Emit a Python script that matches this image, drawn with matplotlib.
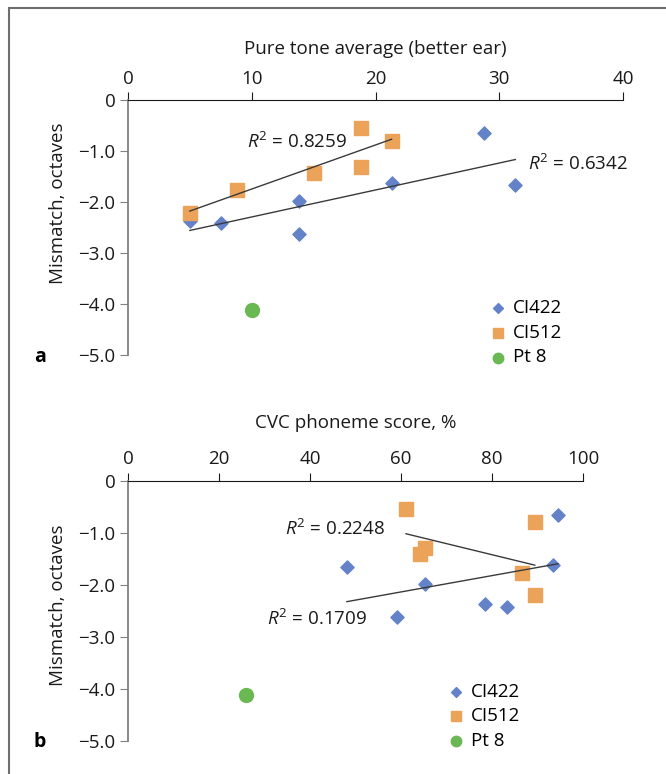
import numpy as np
import matplotlib
matplotlib.use("Agg")
import matplotlib.pyplot as plt
from matplotlib.patches import Rectangle

plt.rcParams['font.family'] = ['Open Sans', 'DejaVu Sans']
plt.rcParams['mathtext.fontset'] = 'custom'
plt.rcParams['mathtext.it'] = 'Open Sans:italic'
plt.rcParams['mathtext.rm'] = 'Open Sans'

# panel a: pure tone average vs mismatch
pta_ci422 = [5.0, 7.5, 13.8, 13.8, 21.3, 28.8, 31.3]
mis_ci422 = [-2.37, -2.42, -1.99, -2.62, -1.62, -0.65, -1.66]
pta_ci512 = [5.0, 8.8, 15.0, 18.8, 18.8, 21.3]
mis_ci512 = [-2.21, -1.77, -1.43, -0.55, -1.31, -0.81]
pta_pt8 = [10.0]
mis_pt8 = [-4.11]

# panel b: CVC phoneme score vs mismatch
cvc_ci422 = [78.4, 83.4, 65.2, 59.1, 93.5, 94.5, 48.1]
cvc_ci512 = [61.1, 89.4, 65.2, 64.2, 86.5, 89.4]
mis_ci512_b = [-0.54, -0.79, -1.29, -1.41, -1.76, -2.20]
cvc_pt8 = [25.9]

r2_a = ["0.8259", "0.6342"]
r2_b = ["0.2248", "0.1709"]

yticks = [0, -1, -2, -3, -4, -5]
ylabels = ["0", "\u22121.0", "\u22122.0", "\u22123.0", "\u22124.0", "\u22125.0"]

blue = '#6382C8'
orange = '#EBA35A'
green = '#69B851'
fs = 13.5

fig = plt.figure(figsize=(6.66, 7.74), dpi=100)
fig.patches.append(Rectangle((9 / 666, -0.1), 1.2, 1 - 8 / 774 + 0.1,
                             transform=fig.transFigure, fill=False,
                             edgecolor='#6e6e6e', lw=1.5))


def fitline(ax, x, y):
    k, b = np.polyfit(x, y, 1)
    xs = np.array([min(x), max(x)])
    ax.plot(xs, k * xs + b, color='#3a3a3a', lw=1.0, zorder=4)


def panel(ax, xmax, xstep, xlabel, lpad):
    ax.set_xlim(0, xmax)
    ax.set_ylim(-5, 0)
    ax.xaxis.tick_top()
    ax.xaxis.set_label_position('top')
    ax.set_xticks(np.arange(0, xmax + 1, xstep))
    ax.set_yticks(yticks)
    ax.set_yticklabels(ylabels)
    ax.set_xlabel(xlabel, fontsize=fs, labelpad=lpad, color='#1a1a1a')
    for s in ['right', 'bottom']:
        ax.spines[s].set_visible(False)
    ax.spines['top'].set_color('#1a1a1a')
    ax.spines['left'].set_color('#808080')
    ax.spines['left'].set_linewidth(1.3)
    ax.tick_params(axis='x', direction='out', length=6, colors='#1a1a1a',
                   labelsize=fs, pad=3)
    ax.tick_params(axis='y', direction='out', length=6, color='#808080',
                   labelcolor='#1a1a1a', labelsize=fs, pad=3)
    ax.patch.set_alpha(0)


def r2text(ax, x, y, val):
    ax.text(x, y, "$R^2$ = " + val, fontsize=fs, va='center', color='#1a1a1a')


ax1 = fig.add_axes([128 / 666, 1 - 355 / 774, 495 / 666, 255 / 774])
panel(ax1, 40, 10, "Pure tone average (better ear)", 11)
ax1.scatter(pta_ci422, mis_ci422, marker='D', s=45, color=blue, label='CI422', zorder=3)
ax1.scatter(pta_ci512, mis_ci512, marker='s', s=110, color=orange, label='CI512', zorder=3)
ax1.scatter(pta_pt8, mis_pt8, marker='o', s=100, color=green, label='Pt 8', zorder=3)
fitline(ax1, pta_ci512, mis_ci512)
fitline(ax1, pta_ci422, mis_ci422)
r2text(ax1, 9.6, -0.82, r2_a[0])
r2text(ax1, 32.3, -1.26, r2_a[1])
ax1.legend(loc='upper left', bbox_to_anchor=(0.70, 0.255), frameon=False,
           fontsize=fs, handletextpad=0.05, labelspacing=0.35, borderpad=0,
           handlelength=1.5, markerscale=0.75)

ax2 = fig.add_axes([128 / 666, 1 - 741 / 774, 455 / 666, 260 / 774])
panel(ax2, 100, 20, "CVC phoneme score, %", 16)
ax2.scatter(cvc_ci422, mis_ci422, marker='D', s=45, color=blue, label='CI422', zorder=3)
ax2.scatter(cvc_ci512, mis_ci512_b, marker='s', s=110, color=orange, label='CI512', zorder=3)
ax2.scatter(cvc_pt8, mis_pt8, marker='o', s=100, color=green, label='Pt 8', zorder=3)
fitline(ax2, cvc_ci512, mis_ci512_b)
fitline(ax2, cvc_ci422, mis_ci422)
r2text(ax2, 34.4, -0.93, r2_b[0])
r2text(ax2, 30.5, -2.65, r2_b[1])
ax2.legend(loc='upper left', bbox_to_anchor=(0.67, 0.26), frameon=False,
           fontsize=fs, handletextpad=0.05, labelspacing=0.35, borderpad=0,
           handlelength=1.5, markerscale=0.75)

fig.text(58 / 666, 1 - 203 / 774, "Mismatch, octaves", rotation=90, fontsize=fs,
         ha='center', va='center', color='#1a1a1a')
fig.text(58 / 666, 1 - 605 / 774, "Mismatch, octaves", rotation=90, fontsize=fs,
         ha='center', va='center', color='#1a1a1a')
fig.text(40 / 666, 1 - 357 / 774, "a", fontsize=14, fontweight='bold',
         ha='center', va='center')
fig.text(40 / 666, 1 - 742 / 774, "b", fontsize=14, fontweight='bold',
         ha='center', va='center')

fig.savefig("out.png", dpi=100)
